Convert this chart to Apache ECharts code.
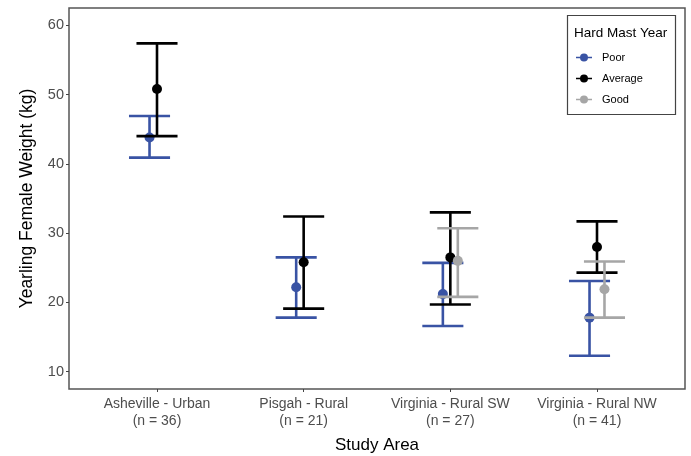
<!DOCTYPE html>
<html>
<head>
<meta charset="utf-8">
<script src="https://cdn.jsdelivr.net/npm/echarts@6/dist/echarts.min.js"></script>
<style>html,body{margin:0;padding:0;background:#fff}#c{width:691px;height:456px}</style>
</head>
<body>
<div id="c"></div>
<script>
const categories = ['Asheville - Urban\n(n = 36)', 'Pisgah - Rural\n(n = 21)', 'Virginia - Rural SW\n(n = 27)', 'Virginia - Rural NW\n(n = 41)'];
const groups = ['Poor', 'Average', 'Good'];
const yTicks = [10, 20, 30, 40, 50, 60];

const poorMean = [43.8, 22.2, 21.2, 17.8];
const poorLow  = [40.9, 17.8, 16.6, 12.3];
const poorHigh = [46.9, 26.5, 25.7, 23.1];

const avgMean = [50.8, 25.8, 26.5, 28.0];
const avgLow  = [44.0, 19.1, 19.7, 24.3];
const avgHigh = [57.4, 32.4, 33.0, 31.7];

const goodMean = [null, null, 26.0, 21.9];
const goodLow  = [null, null, 20.8, 17.8];
const goodHigh = [null, null, 30.7, 25.9];

const colors = ['#3953a4', '#000000', '#a6a6a6'];
const FONT = 'Liberation Sans, Arial, sans-serif';

function buildSeries(gi, means, lows, highs) {
  const data = [];
  means.forEach((m, i) => { if (m != null) data.push([i + 1, m, lows[i], highs[i]]); });
  const color = colors[gi];
  return {
    type: 'custom',
    name: groups[gi],
    z: 3 + gi,
    data: data,
    encode: { x: 0, y: [1, 2, 3] },
    itemStyle: { color: color },
    renderItem: function (params, api) {
      const xv = api.value(0);
      const unit = api.size([1, 0])[0];
      const dodge = (gi - 1) * 0.051 * unit;
      const half = 0.14 * unit;
      const c = api.coord([xv, api.value(1)]);
      const lo = api.coord([xv, api.value(2)]);
      const hi = api.coord([xv, api.value(3)]);
      const x = c[0] + dodge;
      const ls = { stroke: color, lineWidth: 2.6 };
      return {
        type: 'group',
        children: [
          { type: 'line', shape: { x1: x, y1: hi[1], x2: x, y2: lo[1] }, style: ls },
          { type: 'line', shape: { x1: x - half, y1: hi[1], x2: x + half, y2: hi[1] }, style: ls },
          { type: 'line', shape: { x1: x - half, y1: lo[1], x2: x + half, y2: lo[1] }, style: ls },
          { type: 'circle', shape: { cx: x, cy: c[1], r: 5 }, style: { fill: color } }
        ]
      };
    }
  };
}

const iconPath = 'path://M0,4.2 L16,4.2 L16,5.8 L0,5.8 Z M8,1 A4,4 0 1 1 7.999,1 Z';

const chart = echarts.init(document.getElementById('c'), null, { renderer: 'canvas' });
chart.setOption({
  animation: false,
  backgroundColor: '#fff',
  grid: { left: 69, right: 6, top: 8, bottom: 67, outerBoundsMode: 'none', containLabel: false, show: true, borderColor: '#555', borderWidth: 1.5, backgroundColor: 'transparent' },
  xAxis: {
    type: 'value', min: 0.4, max: 4.6,
    name: 'Study Area', nameLocation: 'middle', nameGap: 48,
    nameTextStyle: { fontFamily: FONT, fontSize: 17, color: '#000' },
    axisLine: { show: false },
    splitLine: { show: false },
    axisTick: { show: true, length: 3, lineStyle: { color: '#444' }, customValues: [1, 2, 3, 4] },
    axisLabel: {
      customValues: [1, 2, 3, 4],
      formatter: v => categories[Math.round(v) - 1],
      fontFamily: FONT, fontSize: 14, color: '#4d4d4d', lineHeight: 17, margin: 7
    }
  },
  yAxis: {
    type: 'value', min: 7.5, max: 62.5,
    name: 'Yearling Female Weight (kg)', nameLocation: 'middle', nameGap: 33,
    nameTextStyle: { fontFamily: FONT, fontSize: 17.5, color: '#000' },
    axisLine: { show: false },
    splitLine: { show: false },
    axisTick: { show: true, length: 3, lineStyle: { color: '#444' }, customValues: yTicks },
    axisLabel: { customValues: yTicks, fontFamily: FONT, fontSize: 14.5, color: '#4d4d4d', margin: 5 }
  },
  legend: {
    orient: 'vertical', left: 571, top: 47, itemWidth: 16, itemHeight: 10, itemGap: 10,
    z: 10,
    textStyle: { fontFamily: FONT, fontSize: 11, color: '#000', padding: [0, 0, 0, 5] },
    data: groups.map(g => ({ name: g, icon: iconPath }))
  },
  graphic: [
    { type: 'rect', z: 5, shape: { x: 567.5, y: 15.5, width: 108, height: 99 }, style: { fill: '#fff', stroke: '#444', lineWidth: 1.2 } },
    { type: 'text', z: 6, x: 574, y: 33, style: { text: 'Hard Mast Year', font: '13.5px ' + FONT, fill: '#000', textVerticalAlign: 'middle', verticalAlign: 'middle' } }
  ],
  series: [
    buildSeries(0, poorMean, poorLow, poorHigh),
    buildSeries(1, avgMean, avgLow, avgHigh),
    buildSeries(2, goodMean, goodLow, goodHigh)
  ]
});
</script>
</body>
</html>
